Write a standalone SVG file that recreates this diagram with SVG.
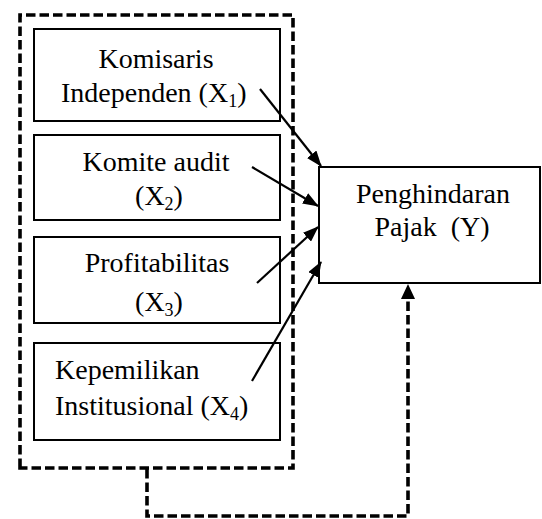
<svg xmlns="http://www.w3.org/2000/svg" width="542" height="519" viewBox="0 0 542 519">
<defs>
<style>
.box{fill:#fff;stroke:#000;stroke-width:2}
.dash{fill:none;stroke:#000;stroke-width:3.6;stroke-dasharray:9.5 4}
.arr{fill:none;stroke:#000;stroke-width:2.2}
text{font-family:"Liberation Serif","Times New Roman",serif;font-size:28px;fill:#000}
.sub{font-size:18px}
</style>
<marker id="ah" markerWidth="16" markerHeight="12" refX="15" refY="6" orient="auto" markerUnits="userSpaceOnUse">
<path d="M0,0 L16,6 L0,12 Z" fill="#000"/>
</marker>
</defs>
<rect width="542" height="519" fill="#fff"/>
<g id="group-x">
<path class="dash" d="M20,468 L20,15 L293,15 L293,468 Z"/>
</g>
<g font-family="Liberation Serif, Times New Roman, serif">
<g id="x1">
<rect class="box" x="34" y="29" width="246" height="92"/>
<text x="156" y="68" text-anchor="middle">Komisaris</text>
<text x="61" y="102">Independen (X<tspan class="sub" dy="5">1</tspan><tspan dy="-5">)</tspan></text>
</g>
<g id="x2">
<rect class="box" x="34" y="135" width="246" height="85"/>
<text x="156" y="171" text-anchor="middle">Komite audit</text>
<text x="159" y="205" text-anchor="middle">(X<tspan class="sub" dy="5">2</tspan><tspan dy="-5">)</tspan></text>
</g>
<g id="x3">
<rect class="box" x="34" y="237" width="246" height="86"/>
<text x="157" y="272" text-anchor="middle">Profitabilitas</text>
<text x="159" y="311" text-anchor="middle">(X<tspan class="sub" dy="5">3</tspan><tspan dy="-5">)</tspan></text>
</g>
<g id="x4">
<rect class="box" x="34" y="343" width="246" height="97"/>
<text x="55" y="379">Kepemilikan</text>
<text x="55" y="415">Institusional (X<tspan class="sub" dy="5">4</tspan><tspan dy="-5">)</tspan></text>
</g>
<g id="y">
<rect class="box" x="319" y="167" width="221" height="116"/>
<text x="433" y="203" text-anchor="middle">Penghindaran</text>
<text x="432" y="236" text-anchor="middle" xml:space="preserve">Pajak  (Y)</text>
</g>
</g>
<g id="connectors">
<line class="arr" x1="260" y1="89" x2="321" y2="166" marker-end="url(#ah)"/>
<line class="arr" x1="252" y1="167" x2="318" y2="206" marker-end="url(#ah)"/>
<line class="arr" x1="257" y1="283" x2="318" y2="227" marker-end="url(#ah)"/>
<line class="arr" x1="252" y1="381" x2="321" y2="262" marker-end="url(#ah)"/>
<path class="dash" d="M147,469 L147,516 L408,516 L408,300"/>
<path d="M401,299 L408,284 L415,299 Z" fill="#000"/>
</g>
</svg>
